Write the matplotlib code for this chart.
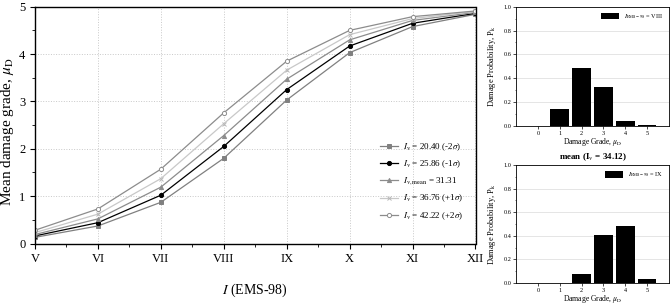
import numpy as np
import matplotlib
matplotlib.use('Agg')
import matplotlib.pyplot as plt
from matplotlib.ticker import MultipleLocator

plt.rcParams['font.family'] = ['Liberation Serif', 'DejaVu Serif']
plt.rcParams['mathtext.fontset'] = 'stix'

# data
intensity = ['V', 'VI', 'VII', 'VIII', 'IX', 'X', 'XI', 'XII']
mu_m2s = [0.13, 0.37, 0.87, 1.80, 3.03, 4.03, 4.58, 4.84]
mu_m1s = [0.16, 0.44, 1.02, 2.05, 3.25, 4.17, 4.65, 4.86]
mu_mean = [0.19, 0.52, 1.19, 2.28, 3.47, 4.30, 4.71, 4.88]
mu_p1s = [0.23, 0.62, 1.37, 2.53, 3.66, 4.41, 4.75, 4.90]
mu_p2s = [0.28, 0.73, 1.57, 2.76, 3.85, 4.50, 4.79, 4.91]
labels = [r'$I_{\rm v}$ = 20.40 (-2$\sigma$)',
          r'$I_{\rm v}$ = 25.86 (-1$\sigma$)',
          r'$I_{\rm v,mean}$ = 31.31',
          r'$I_{\rm v}$ = 36.76 (+1$\sigma$)',
          r'$I_{\rm v}$ = 42.22 (+2$\sigma$)']

grades = [0, 1, 2, 3, 4, 5]
pk_viii = [0.0, 0.14, 0.49, 0.33, 0.04, 0.005]
pk_ix = [0.0, 0.0, 0.08, 0.41, 0.48, 0.03]

fig = plt.figure(figsize=(6.72, 3.04), dpi=100)

# main panel
ax = fig.add_axes([35/672, 1-243.5/304, 440.5/672, 236.8/304])
x = np.arange(len(intensity))
styles = [
    dict(color='#808080', marker='s', mfc='#808080', mec='#808080'),
    dict(color='black', marker='o', mfc='black', mec='black'),
    dict(color='#8c8c8c', marker='^', mfc='#8c8c8c', mec='#8c8c8c'),
    dict(color='#c8c8c8', marker='x', mfc='#c8c8c8', mec='#b8b8b8'),
    dict(color='#8c8c8c', marker='o', mfc='white', mec='#8c8c8c'),
]
for ys, lab, st in zip([mu_m2s, mu_m1s, mu_mean, mu_p1s, mu_p2s], labels, styles):
    ax.plot(x, ys, lw=0.9, ms=3, mew=0.7, label=lab, **st)

ax.set_xlim(0, len(intensity)-1)
ax.set_ylim(0, 5)
ax.set_xticks(x)
ax.set_xticklabels(intensity, fontsize=9)
ax.xaxis.set_minor_locator(MultipleLocator(0.5))
ax.yaxis.set_major_locator(MultipleLocator(1))
ax.yaxis.set_minor_locator(MultipleLocator(0.5))
ax.tick_params(axis='both', which='major', labelsize=9, direction='out', length=3.5, width=0.8)
ax.tick_params(axis='both', which='minor', direction='out', length=2, width=0.6)
ax.grid(True, which='major', ls=':', color='#c8c8c8', lw=0.7)
for s in ax.spines.values():
    s.set_linewidth(1.0)
ax.set_ylabel(r'Mean damage grade, $\mu_{\rm D}$', fontsize=11)
ax.yaxis.set_label_coords(-0.044, 0.47)
ax.set_xlabel(r'$I$ (EMS-98)', fontsize=10)
ax.xaxis.set_label_coords(0.5, -0.16)
ax.legend(loc='upper left', bbox_to_anchor=(0.776, 0.445), frameon=False,
          fontsize=6.5, handlelength=1.9, handletextpad=0.6,
          labelspacing=0.6, borderaxespad=0)

# damage distribution panels
def bar_panel(rect, pk, lab, title=None):
    b = fig.add_axes(rect)
    b.bar(grades, pk, width=0.85, color='black', label=lab)
    b.set_xlim(-1, 6)
    b.set_ylim(0, 1)
    b.set_xticks(grades)
    b.yaxis.set_major_locator(MultipleLocator(0.2))
    b.yaxis.set_minor_locator(MultipleLocator(0.1))
    b.tick_params(axis='both', which='major', labelsize=4.5, direction='out', length=2, width=0.5, pad=1.5)
    b.tick_params(axis='both', which='minor', direction='out', length=1, width=0.4)
    b.yaxis.grid(True, color='#e0e0e0', lw=0.6)
    b.set_axisbelow(True)
    for s in b.spines.values():
        s.set_linewidth(0.6)
    b.set_ylabel(r'Damage Probability, P$_{\rm k}$', fontsize=6, labelpad=4)
    b.set_xlabel(r'Damage Grade, $\mu_{\rm D}$', fontsize=5.5, labelpad=0)
    if title:
        b.set_title(title, fontsize=6.5, fontweight='bold', pad=4)
    b.legend(loc='upper right', frameon=False, fontsize=4.5, handlelength=2.8,
             handleheight=1.2, borderaxespad=0.6)
    return b

bar_panel([516/672, 1-126/304, 153/672, 119.3/304], pk_viii,
          r'$I_{\rm EMS-98}$ = VIII')
bar_panel([516/672, 1-283/304, 153/672, 118/304], pk_ix,
          r'$I_{\rm EMS-98}$ = IX', title=r'mean (I$_{\rm v}$ = 34.12)')

fig.savefig('out.png', dpi=100)
